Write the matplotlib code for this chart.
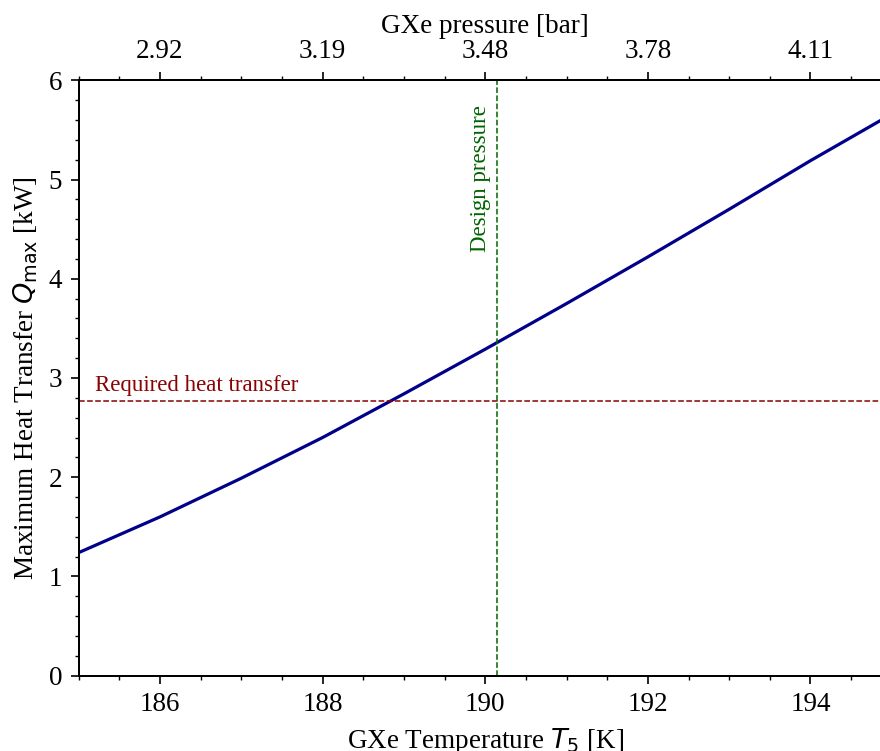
import numpy as np
import matplotlib
matplotlib.use("Agg")
import matplotlib.pyplot as plt
from matplotlib.ticker import MultipleLocator

plt.rcParams['font.family'] = ['Liberation Serif', 'DejaVu Serif']
plt.rcParams['mathtext.fontset'] = 'dejavusans'

# GXe temperature [K] and the max heat transfer it allows [kW]
temp_K = [185, 186, 187, 188, 189, 190, 191, 192, 193, 194, 195]
q_max_kW = [1.24, 1.60, 1.99, 2.40, 2.84, 3.29, 3.75, 4.22, 4.70, 5.19, 5.66]

# saturation pressure at the temperature ticks
temp_ticks = [186, 188, 190, 192, 194]
pressure_labels = ['2.92', '3.19', '3.48', '3.78', '4.11']

q_required = 2.77
t_design = 190.15

fig = plt.figure(figsize=(8.8, 7.51), dpi=100)
ax = fig.add_axes([0.0894, 0.1003, 0.924, 0.7928])

ax.plot(temp_K, q_max_kW, color='darkblue', lw=2.3, zorder=2)
ax.axhline(q_required, color='darkred', ls='--', lw=1.1, zorder=3)
ax.axvline(t_design, color='darkgreen', ls='--', lw=1.1, zorder=3)

ax.text(185.2, 2.87, 'Required heat transfer', color='darkred', fontsize=16.5,
        va='baseline', ha='left')
ax.text(190.07, 5.75, 'Design pressure', color='darkgreen', fontsize=16.5,
        rotation=90, ha='right', va='top')

ax.set_xlim(185, 195)
ax.set_ylim(0, 6)
ax.set_xticks(temp_ticks)
ax.xaxis.set_minor_locator(MultipleLocator(0.5))
ax.yaxis.set_major_locator(MultipleLocator(1))
ax.yaxis.set_minor_locator(MultipleLocator(0.2))
ax.set_xlabel(r'GXe Temperature $T_5$ [K]', fontsize=19.5, labelpad=6)
ax.set_ylabel(r'Maximum Heat Transfer $Q_{\mathrm{max}}$ [kW]', fontsize=19.5, labelpad=6)

top = ax.twiny()
top.set_xlim(ax.get_xlim())
top.set_xticks(temp_ticks)
top.set_xticklabels(pressure_labels)
top.xaxis.set_minor_locator(MultipleLocator(0.5))
top.set_xlabel('GXe pressure [bar]', fontsize=19.5, labelpad=4)

for a in (ax, top):
    a.tick_params(which='major', direction='out', length=6, width=1.2,
                  labelsize=19.5, pad=6)
    a.tick_params(which='minor', direction='out', length=3, width=1.0)
    for s in a.spines.values():
        s.set_linewidth(1.4)

fig.savefig('out.png', dpi=100)
